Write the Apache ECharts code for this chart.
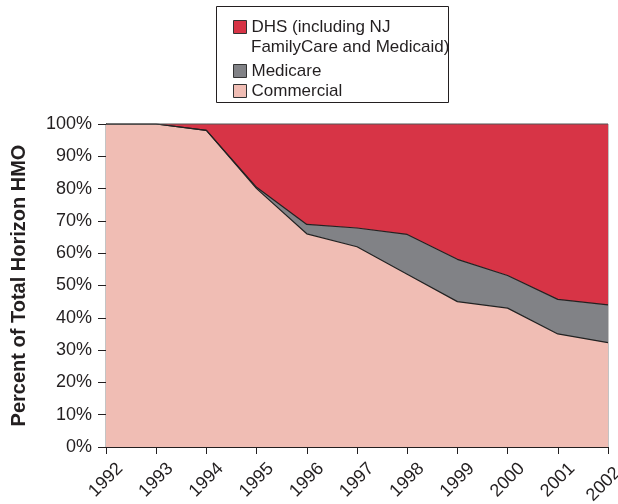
<!DOCTYPE html>
<html>
<head>
<meta charset="utf-8">
<script src="https://cdn.jsdelivr.net/npm/echarts@6/dist/echarts.min.js"></script>
<style>
  html, body { margin: 0; padding: 0; background: #fff; }
  #main { width: 618px; height: 504px; }
</style>
</head>
<body>
<div id="main"></div>
<script>
// 年份
var years = ['1992', '1993', '1994', '1995', '1996', '1997', '1998', '1999', '2000', '2001', '2002'];
// 各部分占比（%），从下往上堆叠
var commercial = [100, 100, 98, 80, 66, 62, 53.5, 45, 43, 35, 32.3];
var medicare   = [0, 0, 0, 0.4, 2.9, 5.8, 12.3, 13.1, 10.1, 10.7, 11.7];
var dhs        = [0, 0, 2, 19.6, 31.1, 32.2, 34.2, 41.9, 46.9, 54.3, 56];

var dhsName = 'DHS (including NJ FamilyCare and Medicaid)';
var font = 'Liberation Sans, Arial, sans-serif';
var ink = '#231f20';

var myChart = echarts.init(document.getElementById('main'));

var option = {
    animation: false,
    textStyle: { fontFamily: font },
    grid: {
        left: 106, right: 10, top: 124, bottom: 57,
        outerBoundsMode: 'none',
        show: true, borderColor: '#888', borderWidth: 1
    },
    legend: [
        {
            data: [dhsName],
            left: 233, top: 17, padding: 0,
            icon: 'rect', itemWidth: 13, itemHeight: 13,
            itemStyle: { borderColor: '#333', borderWidth: 1 },
            textStyle: { fontSize: 17, lineHeight: 20, color: ink, fontFamily: font },
            formatter: function () { return 'DHS (including NJ'; }
        },
        {
            data: ['Medicare', 'Commercial'],
            orient: 'vertical',
            left: 233, top: 61, padding: 0,
            icon: 'rect', itemWidth: 13, itemHeight: 13, itemGap: 0,
            itemStyle: { borderColor: '#333', borderWidth: 1 },
            textStyle: { fontSize: 17, lineHeight: 20, color: ink, fontFamily: font }
        }
    ],
    graphic: [
        {
            type: 'rect',
            shape: { x: 216.5, y: 6.5, width: 232, height: 96 },
            style: { fill: 'none', stroke: ink, lineWidth: 1 }
        },
        {
            type: 'text',
            x: 251, y: 47,
            style: {
                text: 'FamilyCare and Medicaid)', fontSize: 17, fill: ink,
                fontFamily: font, verticalAlign: 'middle'
            }
        }
    ],
    xAxis: {
        type: 'category',
        data: years,
        boundaryGap: false,
        axisLine: { lineStyle: { color: ink } },
        axisTick: { show: true, length: 7, lineStyle: { color: ink } },
        axisLabel: {
            rotate: 45, fontSize: 18, color: ink, margin: 33,
            align: 'center', verticalAlign: 'middle', fontFamily: font,
            // 最后一个标签后面加个空白占位，让它往左挪一点
            formatter: function (v) {
                return v === years[years.length - 1] ? v + '{s| }' : v;
            },
            rich: { s: { width: 12, fontSize: 18 } }
        }
    },
    yAxis: {
        type: 'value',
        min: 0, max: 100, interval: 10,
        name: 'Percent of Total Horizon HMO',
        nameLocation: 'middle',
        nameRotate: 90,
        nameGap: 77,
        nameTextStyle: { fontSize: 20, fontWeight: 'bold', color: ink, fontFamily: font },
        axisLine: { show: true, lineStyle: { color: ink } },
        axisTick: { show: true, length: 8, lineStyle: { color: ink } },
        splitLine: { show: false },
        axisLabel: { formatter: '{value}%', fontSize: 18, color: ink, margin: 14, fontFamily: font }
    },
    series: [
        {
            name: 'Commercial', type: 'line', stack: 'total', data: commercial,
            symbol: 'none', color: '#F0BDB4',
            lineStyle: { color: '#222', width: 1.2 },
            areaStyle: { color: '#F0BDB4', opacity: 1 }
        },
        {
            name: 'Medicare', type: 'line', stack: 'total', data: medicare,
            symbol: 'none', color: '#818286',
            lineStyle: { color: '#222', width: 1.2 },
            areaStyle: { color: '#818286', opacity: 1 }
        },
        {
            name: dhsName, type: 'line', stack: 'total', data: dhs,
            symbol: 'none', color: '#D73446',
            lineStyle: { color: '#555', width: 1 },
            areaStyle: { color: '#D73446', opacity: 1 }
        }
    ]
};

myChart.setOption(option);
</script>
</body>
</html>
